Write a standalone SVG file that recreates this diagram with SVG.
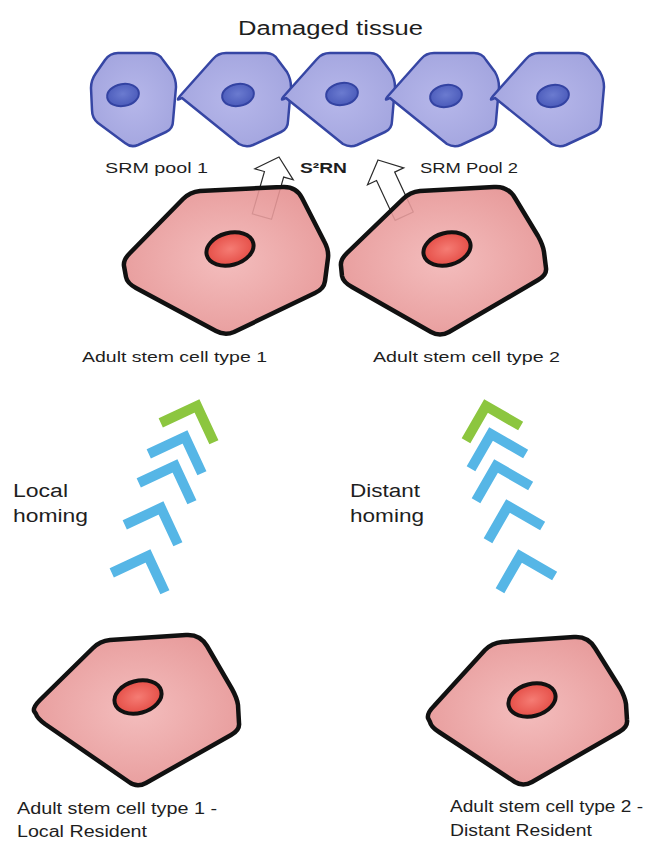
<svg xmlns="http://www.w3.org/2000/svg" xmlns:xlink="http://www.w3.org/1999/xlink" width="653" height="845" viewBox="0 0 653 845">
  <defs>
    <radialGradient id="gTissue" cx="0.5" cy="0.5" r="0.6">
      <stop offset="0" stop-color="#b6b7ea"/>
      <stop offset="1" stop-color="#a2a4de"/>
    </radialGradient>
    <radialGradient id="gTissueNuc" cx="0.5" cy="0.45" r="0.6">
      <stop offset="0" stop-color="#6b7bd0"/>
      <stop offset="1" stop-color="#4858b8"/>
    </radialGradient>
    <radialGradient id="gStem" cx="0.5" cy="0.5" r="0.6">
      <stop offset="0" stop-color="#f2b4b4" stop-opacity="0.88"/>
      <stop offset="1" stop-color="#e48e8e" stop-opacity="0.9"/>
    </radialGradient>
    <radialGradient id="gStemNuc" cx="0.5" cy="0.5" r="0.6">
      <stop offset="0" stop-color="#f57c74"/>
      <stop offset="1" stop-color="#e2463f"/>
    </radialGradient>
    <!-- standard tissue cell outline, centred on its nucleus -->
    <path id="tissueShape" d="M-58,1 L-25,-36 Q-20,-42 -12,-42 L28,-42 Q36,-42 40,-35 L49,-23 Q53,-16 53,-8 L50,26 Q50,34 43,37 L15,50 Q8,53 1,49 L-56,3 Q-63,7 -58,1 Z"/>
    <!-- homing chevrons: corner at origin -->
    <path id="chevL" d="M-40,0 L0,0 L0,40"/>
    <path id="chevR" d="M40,0 L0,0 L0,40"/>
    <!-- hollow signalling arrow, tip at origin -->
    <path id="sigArrow" d="M0,0 L20,18 L10,18 L10,62 L-10,62 L-10,18 L-20,18 Z"/>
  </defs>
  <style>
    .tissue { fill: url(#gTissue); stroke: #3646a4; stroke-width: 2.5; stroke-linejoin: round; }
    .tnuc { fill: url(#gTissueNuc); stroke: #3343a2; stroke-width: 2; }
    .stem { fill: url(#gStem); stroke: #111; stroke-width: 4.5; stroke-linejoin: round; }
    .snuc { fill: url(#gStemNuc); stroke: #111; stroke-width: 4; }
    .lbl { font-family: "Liberation Sans", Arial, sans-serif; fill: #1e1e1e; }
    .chev { fill: none; stroke-width: 10; stroke-linejoin: miter; stroke-linecap: butt; }
    .blue { stroke: #56b6e6; }
    .green { stroke: #8cc63f; }
    .sig { fill: none; stroke: #2a2a2a; stroke-width: 1.2; stroke-linejoin: miter; }
  </style>

  <rect width="653" height="845" fill="#ffffff"/>

  <!-- damaged tissue -->
  <g id="tissue">
    <text class="lbl" x="238" y="35" font-size="20" textLength="185" lengthAdjust="spacingAndGlyphs">Damaged tissue</text>
    <g id="tissue-cell-1">
      <path class="tissue" d="M96,73 L105,60 Q110,53 118,53 L151,53 Q159,53 163,60 L172,72 Q176,79 176,87 L173,121 Q173,129 166,132 L138,145 Q131,148 125,143 L98,123 Q92,118 92,110 L91,88 Q91,80 96,73 Z"/>
      <ellipse class="tnuc" cx="123" cy="95" rx="16" ry="11" transform="rotate(-10 123 95)"/>
    </g>
    <g id="tissue-cell-2">
      <use href="#tissueShape" class="tissue" x="238" y="95"/>
      <ellipse class="tnuc" cx="238" cy="95" rx="16" ry="11" transform="rotate(-10 238 95)"/>
    </g>
    <g id="tissue-cell-3">
      <use href="#tissueShape" class="tissue" x="342" y="95"/>
      <ellipse class="tnuc" cx="342" cy="94" rx="16" ry="11" transform="rotate(-10 342 94)"/>
    </g>
    <g id="tissue-cell-4">
      <use href="#tissueShape" class="tissue" x="446" y="95"/>
      <ellipse class="tnuc" cx="446" cy="96" rx="16" ry="11" transform="rotate(-10 446 96)"/>
    </g>
    <g id="tissue-cell-5">
      <use href="#tissueShape" class="tissue" x="551" y="95"/>
      <ellipse class="tnuc" cx="553" cy="96" rx="16" ry="11" transform="rotate(-10 553 96)"/>
    </g>
  </g>

  <!-- pool labels -->
  <g id="pool-labels">
    <text class="lbl" x="105" y="173" font-size="14" textLength="103" lengthAdjust="spacingAndGlyphs">SRM pool 1</text>
    <text class="lbl" x="420" y="173" font-size="14" textLength="98" lengthAdjust="spacingAndGlyphs">SRM Pool 2</text>
    <text class="lbl" x="300" y="173" font-size="14" font-weight="bold" textLength="47" lengthAdjust="spacingAndGlyphs">S²RN</text>
  </g>

  <!-- signalling arrows (drawn under the stem cells) -->
  <g id="signals">
    <use href="#sigArrow" class="sig" transform="translate(279 157) rotate(16)"/>
    <use href="#sigArrow" class="sig" transform="translate(378 160) rotate(-25)"/>
  </g>

  <!-- stem cells near the tissue -->
  <g id="stem-cell-1">
    <path class="stem" d="M130,253 L183,199 Q190,192 200,191 L282,187 Q296,186 302,198 L324,241 Q329,250 328,258 L325,281 Q324,289 315,293 L234,332 Q225,336 216,331 L136,288 Q127,283 126,277 L124,266 Q123,260 130,253 Z"/>
    <ellipse class="snuc" cx="230" cy="249" rx="24" ry="16" transform="rotate(-15 230 249)"/>
    <text class="lbl" x="82" y="362" font-size="15" textLength="185" lengthAdjust="spacingAndGlyphs">Adult stem cell type 1</text>
  </g>
  <g id="stem-cell-2">
    <path class="stem" d="M347,253 L403,199 Q410,192 420,191 L494,187 Q508,186 515,198 L538,236 Q543,245 544,252 L546,268 Q547,275 538,280 L449,332 Q440,337 431,332 L352,287 Q343,282 342,276 L341,266 Q340,260 347,253 Z"/>
    <ellipse class="snuc" cx="447" cy="249" rx="24" ry="16" transform="rotate(-15 447 249)"/>
    <text class="lbl" x="373" y="362" font-size="15" textLength="187" lengthAdjust="spacingAndGlyphs">Adult stem cell type 2</text>
  </g>

  <!-- resident stem cells -->
  <g id="resident-cell-1">
    <path class="stem" d="M40,700 L93,648 Q100,641 110,640 L186,635 Q200,634 207,646 L232,689 Q237,698 238,705 L239,723 Q240,730 231,735 L146,783 Q137,788 129,782 L45,724 Q37,718 36,714 L34,711 Q33,707 40,700 Z"/>
    <ellipse class="snuc" cx="138" cy="697" rx="24" ry="16" transform="rotate(-15 138 697)"/>
    <text class="lbl" x="17" y="814" font-size="16" textLength="200" lengthAdjust="spacingAndGlyphs">Adult stem cell type 1 -</text>
    <text class="lbl" x="17" y="837" font-size="16" textLength="130" lengthAdjust="spacingAndGlyphs">Local Resident</text>
  </g>
  <g id="resident-cell-2">
    <path class="stem" d="M434,706 L485,650 Q492,643 502,642 L574,637 Q588,636 595,648 L620,688 Q625,697 626,704 L627,720 Q628,727 619,732 L532,782 Q523,787 515,782 L439,732 Q431,727 430,722 L428,718 Q427,713 434,706 Z"/>
    <ellipse class="snuc" cx="532" cy="700" rx="24" ry="16" transform="rotate(-15 532 700)"/>
    <text class="lbl" x="450" y="812" font-size="16" textLength="193" lengthAdjust="spacingAndGlyphs">Adult stem cell type 2 -</text>
    <text class="lbl" x="450" y="836" font-size="16" textLength="142" lengthAdjust="spacingAndGlyphs">Distant Resident</text>
  </g>

  <!-- homing routes -->
  <g id="connectors">
    <g id="local-homing">
      <use href="#chevL" class="chev blue" transform="translate(148 556) rotate(-25)"/>
      <use href="#chevL" class="chev blue" transform="translate(161 508) rotate(-25)"/>
      <use href="#chevL" class="chev blue" transform="translate(175 466) rotate(-25)"/>
      <use href="#chevL" class="chev blue" transform="translate(185 437) rotate(-25)"/>
      <use href="#chevL" class="chev green" transform="translate(197 406) rotate(-25)"/>
    </g>
    <g id="distant-homing">
      <use href="#chevR" class="chev blue" transform="translate(520 556) rotate(30)"/>
      <use href="#chevR" class="chev blue" transform="translate(508 506) rotate(30)"/>
      <use href="#chevR" class="chev blue" transform="translate(496 466) rotate(30)"/>
      <use href="#chevR" class="chev blue" transform="translate(491 434) rotate(30)"/>
      <use href="#chevR" class="chev green" transform="translate(486 406) rotate(30)"/>
    </g>
  </g>

  <g id="route-labels">
    <text class="lbl" x="13" y="497" font-size="18" textLength="55" lengthAdjust="spacingAndGlyphs">Local</text>
    <text class="lbl" x="13" y="522" font-size="18" textLength="75" lengthAdjust="spacingAndGlyphs">homing</text>
    <text class="lbl" x="350" y="497" font-size="18" textLength="70" lengthAdjust="spacingAndGlyphs">Distant</text>
    <text class="lbl" x="350" y="522" font-size="18" textLength="74" lengthAdjust="spacingAndGlyphs">homing</text>
  </g>
</svg>
